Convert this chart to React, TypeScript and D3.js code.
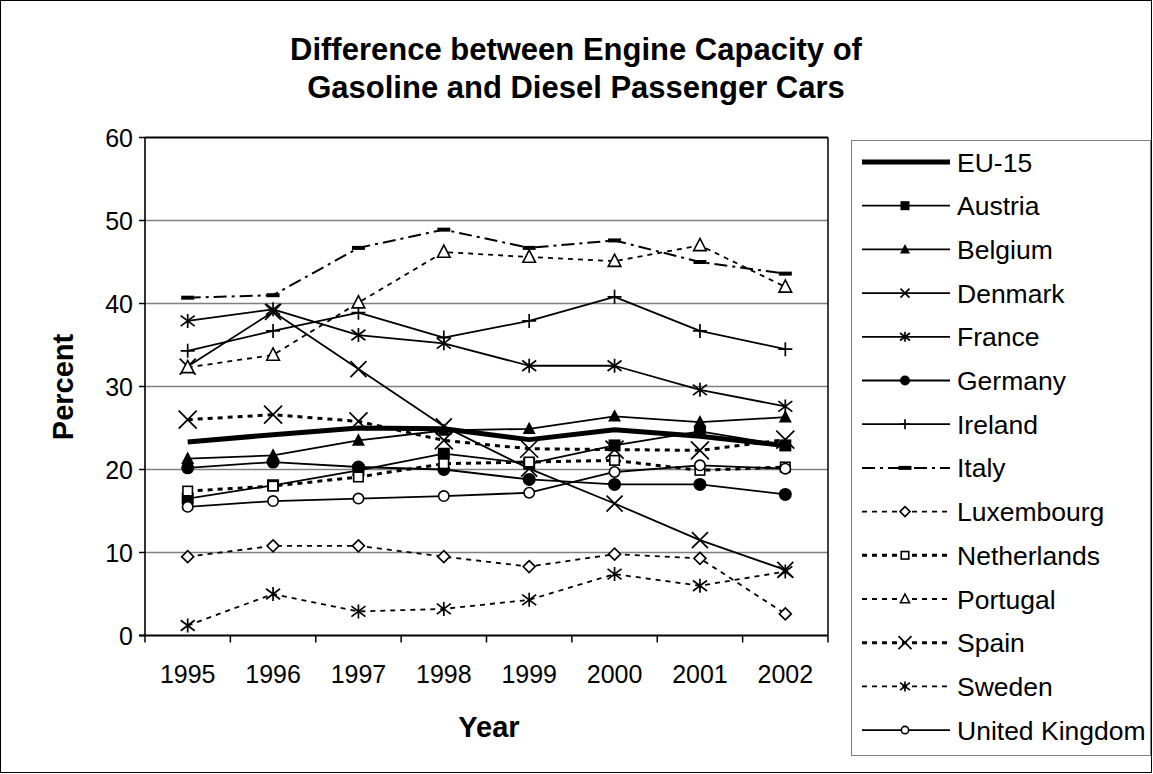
import React from "react";
import * as d3 from "d3";

const years = ["1995", "1996", "1997", "1998", "1999", "2000", "2001", "2002"];
const yTicks = [0, 10, 20, 30, 40, 50, 60];
const titleLines = ["Difference between Engine Capacity of", "Gasoline and Diesel Passenger Cars"];

const eu15 = [23.3, 24.2, 25.0, 24.9, 23.6, 24.8, 24.0, 22.9];
const austria = [16.5, 18.1, 19.9, 21.9, 20.7, 22.9, 24.6, 22.9];
const belgium = [21.3, 21.7, 23.5, 24.7, 24.9, 26.4, 25.7, 26.3];
const denmark = [32.4, 39.0, 32.1, 25.2, 20.1, 15.9, 11.5, 7.9];
const france = [37.9, 39.3, 36.2, 35.2, 32.5, 32.5, 29.6, 27.6];
const germany = [20.2, 20.9, 20.3, 20.0, 18.8, 18.2, 18.2, 17.0];
const ireland = [34.3, 36.7, 38.9, 35.9, 37.9, 40.8, 36.7, 34.5];
const italy = [40.7, 41.0, 46.7, 48.9, 46.7, 47.6, 45.0, 43.6];
const luxembourg = [9.5, 10.8, 10.8, 9.5, 8.3, 9.8, 9.3, 2.6];
const netherlands = [17.4, 18.0, 19.1, 20.7, 20.9, 21.1, 19.9, 20.3];
const portugal = [32.3, 33.8, 40.1, 46.2, 45.6, 45.1, 47.0, 42.0];
const spain = [26.0, 26.6, 25.8, 23.5, 22.5, 22.4, 22.3, 23.6];
const sweden = [1.2, 5.0, 2.9, 3.2, 4.3, 7.4, 6.0, 7.7];
const uk = [15.5, 16.2, 16.5, 16.8, 17.2, 19.7, 20.5, 20.1];

type Style = { width: number; dash?: string; marker: string };

const seriesNames = [
  "EU-15", "Austria", "Belgium", "Denmark", "France", "Germany", "Ireland",
  "Italy", "Luxembourg", "Netherlands", "Portugal", "Spain", "Sweden", "United Kingdom",
];
const seriesValues = [
  eu15, austria, belgium, denmark, france, germany, ireland,
  italy, luxembourg, netherlands, portugal, spain, sweden, uk,
];
const seriesStyles: Style[] = [
  { width: 5, marker: "none" },
  { width: 1.8, marker: "square" },
  { width: 1.8, marker: "triangle" },
  { width: 1.8, marker: "x" },
  { width: 1.8, marker: "star" },
  { width: 1.8, marker: "circle" },
  { width: 1.8, marker: "plus" },
  { width: 2, dash: "13,5,3,5", marker: "bar" },
  { width: 1.8, dash: "5,5", marker: "diamond" },
  { width: 3, dash: "5,5", marker: "hsquare" },
  { width: 1.8, dash: "5,5", marker: "htriangle" },
  { width: 3, dash: "5,5", marker: "bigx" },
  { width: 1.8, dash: "5,5", marker: "star" },
  { width: 1.8, marker: "hcircle" },
];

const FONT = "'Liberation Sans', Arial, sans-serif";

function Marker({ type, x, y, s }: { type: string; x: number; y: number; s: number }) {
  const h = s / 2;
  switch (type) {
    case "square":
      return <rect x={x - h} y={y - h} width={s} height={s} fill="#000" />;
    case "hsquare":
      return <rect x={x - h + 0.75} y={y - h + 0.75} width={s - 1.5} height={s - 1.5} fill="#fff" stroke="#000" strokeWidth={1.6} />;
    case "triangle":
      return <path d={`M${x},${y - h * 1.1}L${x + h},${y + h * 0.8}L${x - h},${y + h * 0.8}Z`} fill="#000" />;
    case "htriangle":
      return <path d={`M${x},${y - h * 1.0}L${x + h * 0.9},${y + h * 0.75}L${x - h * 0.9},${y + h * 0.75}Z`} fill="#fff" stroke="#000" strokeWidth={1.6} />;
    case "x":
    case "bigx":
      return <path d={`M${x - h},${y - h}L${x + h},${y + h}M${x - h},${y + h}L${x + h},${y - h}`} stroke="#000" strokeWidth={1.7} fill="none" />;
    case "star":
      return <path d={`M${x - h},${y - h * 0.75}L${x + h},${y + h * 0.75}M${x - h},${y + h * 0.75}L${x + h},${y - h * 0.75}M${x},${y - h}L${x},${y + h}`} stroke="#000" strokeWidth={1.7} fill="none" />;
    case "plus":
      return <path d={`M${x - h},${y}L${x + h},${y}M${x},${y - h}L${x},${y + h}`} stroke="#000" strokeWidth={1.7} fill="none" />;
    case "circle":
      return <circle cx={x} cy={y} r={h} fill="#000" />;
    case "hcircle":
      return <circle cx={x} cy={y} r={h - 0.8} fill="#fff" stroke="#000" strokeWidth={1.6} />;
    case "diamond":
      return <path d={`M${x},${y - h}L${x + h},${y}L${x},${y + h}L${x - h},${y}Z`} fill="#fff" stroke="#000" strokeWidth={1.6} />;
    case "bar":
      return <rect x={x - h} y={y - 2} width={s} height={4} fill="#000" />;
    default:
      return null;
  }
}

const plotSize: Record<string, number> = {
  square: 12, hsquare: 11, triangle: 13, htriangle: 14, x: 16, bigx: 18, star: 14,
  plus: 14, circle: 13, hcircle: 12, diamond: 12, bar: 13, none: 0,
};
const legendSize: Record<string, number> = {
  square: 9, hsquare: 9, triangle: 10, htriangle: 10, x: 9, bigx: 13, star: 10,
  plus: 10, circle: 10, hcircle: 9, diamond: 10, bar: 13, none: 0,
};

export default function App() {
  const W = 1153, H = 774;
  const left = 145, right = 828, top = 137.5, bottom = 635.5;
  const x = d3.scaleBand<string>().domain(years).range([left, right]);
  const y = d3.scaleLinear().domain([0, 60]).range([bottom, top]);
  const cx = (yr: string) => (x(yr) as number) + x.bandwidth() / 2;
  const line = d3.line<number>().x((_, i) => cx(years[i])).y((v) => y(v));

  const legX = 851, legY = 140, legW = 299, legH = 615;
  const legRow = (i: number) => 162 + i * 43.7;

  return (
    <svg width={W} height={H} style={{ position: "fixed", left: 0, top: 0, background: "#fff" }} fontFamily={FONT}>
      <rect x={0.5} y={0.5} width={W - 2} height={H - 2} fill="#fff" stroke="#000" strokeWidth={1} />
      {titleLines.map((t, i) => (
        <text key={t} x={576} y={60 + i * 37.5} textAnchor="middle" fontSize={31} fontWeight="bold">{t}</text>
      ))}
      {yTicks.filter((t) => t > 0 && t < 60).map((t) => (
        <line key={t} x1={left} x2={right} y1={y(t)} y2={y(t)} stroke="#808080" strokeWidth={1.3} />
      ))}
      <line x1={left} x2={right} y1={top} y2={top} stroke="#000" strokeWidth={1.8} />
      <line x1={right} x2={right} y1={top} y2={bottom} stroke="#000" strokeWidth={1.5} />
      <line x1={left} x2={left} y1={top} y2={bottom} stroke="#000" strokeWidth={1.6} />
      <line x1={left - 6} x2={right} y1={bottom} y2={bottom} stroke="#000" strokeWidth={2} />
      {yTicks.map((t) => (
        <g key={t}>
          <line x1={left - 6} x2={left} y1={y(t)} y2={y(t)} stroke="#000" strokeWidth={1.5} />
          <text x={133} y={y(t) + 9} textAnchor="end" fontSize={25}>{t}</text>
        </g>
      ))}
      {years.map((yr) => (
        <line key={"t" + yr} x1={x(yr) as number} x2={x(yr) as number} y1={bottom} y2={bottom + 7} stroke="#000" strokeWidth={1.5} />
      ))}
      <line x1={right} x2={right} y1={bottom} y2={bottom + 7} stroke="#000" strokeWidth={1.5} />
      {years.map((yr) => (
        <text key={"l" + yr} x={cx(yr)} y={683} textAnchor="middle" fontSize={25}>{yr}</text>
      ))}
      <text x={489} y={737} textAnchor="middle" fontSize={29} fontWeight="bold">Year</text>
      <text transform="translate(73,387) rotate(-90)" textAnchor="middle" fontSize={29} fontWeight="bold">Percent</text>
      {seriesValues.map((vals, si) => {
        const st = seriesStyles[si];
        return (
          <g key={seriesNames[si]}>
            <path d={line(vals) || ""} fill="none" stroke="#000" strokeWidth={st.width} strokeDasharray={st.dash} strokeLinejoin="round" />
            {vals.map((v, i) => (
              <Marker key={i} type={st.marker} x={cx(years[i])} y={y(v)} s={plotSize[st.marker]} />
            ))}
          </g>
        );
      })}
      <rect x={legX + 0.5} y={legY + 0.5} width={legW} height={legH} fill="#fff" stroke="#808080" strokeWidth={1} />
      {seriesNames.map((n, i) => {
        const st = seriesStyles[i];
        const ly = legRow(i);
        return (
          <g key={"leg" + n}>
            <line x1={862} x2={950} y1={ly} y2={ly} stroke="#000" strokeWidth={st.width} strokeDasharray={st.dash} />
            <Marker type={st.marker} x={905} y={ly} s={legendSize[st.marker]} />
            <text x={957} y={ly + 9.5} fontSize={26.5}>{n}</text>
          </g>
        );
      })}
    </svg>
  );
}
